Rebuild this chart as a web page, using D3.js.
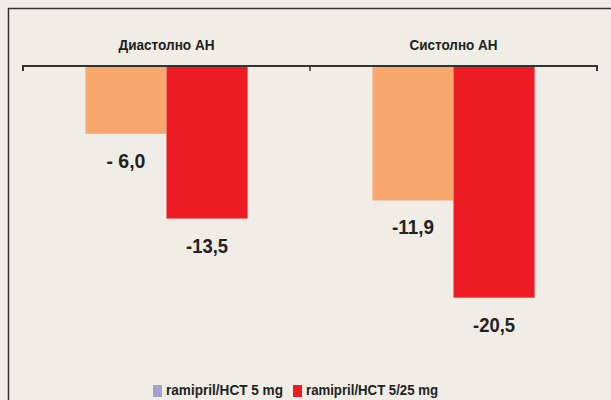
<!DOCTYPE html>
<html><head><meta charset="utf-8">
<script src="https://cdn.jsdelivr.net/npm/d3@7"></script>
<style>
html,body{margin:0;padding:0;background:#efede5;}
svg{display:block;}
text{font-family:"Liberation Sans",Arial,sans-serif;font-weight:bold;fill:#222;}
</style></head>
<body>
<svg id="c" width="611" height="400"></svg>
<script>
const categories = ["Диастолно АН", "Систолно АН"];
const seriesNames = ["ramipril/HCT 5 mg", "ramipril/HCT 5/25 mg"];
const series1 = [-6.0, -11.9];
const series2 = [-13.5, -20.5];
const valueLabels1 = ["- 6,0", "-11,9"];
const valueLabels2 = ["-13,5", "-20,5"];
const barColors = ["#f8a86e", "#ed1c24"];
const legendColors = ["#a39fd0", "#ed1c24"];

const svg = d3.select("#c");
// frame
svg.append("path").attr("d","M8.5,400 L8.5,8.5 L611,8.5").attr("fill","none").attr("stroke","#333").attr("stroke-width",1.5);

const x0 = d3.scaleBand().domain(categories).range([23, 597]).paddingInner(0).paddingOuter(0);
const x1 = d3.scaleBand().domain([0,1]).range([0, x0.bandwidth()]).paddingOuter(0.77).paddingInner(0);
const y = d3.scaleLinear().domain([0, -25]).range([66, 348.5]);

const data = categories.map((c,i)=>({c, vals:[series1[i], series2[i]], labs:[valueLabels1[i], valueLabels2[i]]}));
const titleLen = [96, 88];

const g = svg.append("g");
data.forEach((d,i)=>{
  d.vals.forEach((v,j)=>{
    const bx = x0(d.c) + x1(j);
    g.append("rect").attr("x", bx).attr("y", y(0)).attr("width", x1.bandwidth()).attr("height", y(v)-y(0)).attr("fill", barColors[j]);
    g.append("text").attr("x", bx + x1.bandwidth()/2).attr("y", y(v)+34).attr("text-anchor","middle").attr("font-size",20).attr("textLength", d.labs[j].startsWith("- ")?39:42).attr("lengthAdjust","spacingAndGlyphs").text(d.labs[j]);
  });
  svg.append("text").attr("x", x0(d.c)+x0.bandwidth()/2).attr("y", 50).attr("text-anchor","middle").attr("font-size",15.5).attr("textLength", titleLen[i]).attr("lengthAdjust","spacingAndGlyphs").text(d.c);
});

// axis line with end ticks
const axis = svg.append("g");
axis.append("path").attr("d", `M${x0.range()[0]},${y(0)+5} L${x0.range()[0]},${y(0)} L${x0.range()[1]},${y(0)} L${x0.range()[1]},${y(0)+5}`).attr("fill","none").attr("stroke","#333").attr("stroke-width",2);
axis.append("line").attr("x1", x0(categories[1])).attr("x2", x0(categories[1])).attr("y1", y(0)).attr("y2", y(0)+5).attr("stroke","#333").attr("stroke-width",1.5);

// legend
const leg = svg.append("g");
const legX = [153, 293];
const legLen = [117, 132];
seriesNames.forEach((n,i)=>{
  leg.append("rect").attr("x", legX[i]).attr("y", 385).attr("width", 9).attr("height", 12).attr("fill", legendColors[i]);
  leg.append("text").attr("x", legX[i]+13).attr("y", 395).attr("font-size",14).attr("textLength", legLen[i]).attr("lengthAdjust","spacingAndGlyphs").text(n);
});
</script>
</body></html>
